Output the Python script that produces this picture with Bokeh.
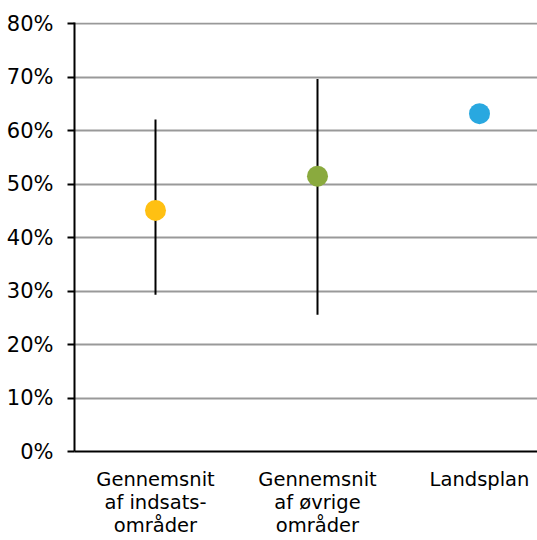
from bokeh.plotting import figure
from bokeh.models import ColumnDataSource, FixedTicker, Range1d
from bokeh.embed import file_html
from bokeh.resources import INLINE

categories = ["Gennemsnit\naf indsats-\nområder", "Gennemsnit\naf øvrige\nområder", "Landsplan"]
values = [45.1, 51.5, 63.2]
lower = [29.3, 25.6, None]
upper = [62.1, 69.7, None]
colors = ["#FFC012", "#8AAA3E", "#29A8E0"]
y_ticks = [0, 10, 20, 30, 40, 50, 60, 70, 80]

xs = [1, 2, 3]

p = figure(width=537, height=540, output_backend="svg", toolbar_location=None,
           x_range=Range1d(0.5, 0.5 + 463 / 162), y_range=Range1d(0, 80.25),
           min_border_left=74, min_border_right=0, min_border_top=22, min_border_bottom=88)
p.outline_line_color = None

# error bars
ex = [x for x, lo in zip(xs, lower) if lo is not None]
elo = [lo for lo in lower if lo is not None]
ehi = [hi for hi in upper if hi is not None]
p.segment(x0=ex, y0=elo, x1=ex, y1=ehi, line_color="black", line_width=2)

src = ColumnDataSource(dict(x=xs, y=values, c=colors))
p.scatter("x", "y", source=src, size=21, fill_color="c", line_color=None)

# axes
p.xaxis.ticker = FixedTicker(ticks=xs)
p.xaxis.major_label_overrides = {x: c for x, c in zip(xs, categories)}
p.xaxis.major_tick_line_color = None
p.xaxis.minor_tick_line_color = None
p.xaxis.axis_line_color = "black"
p.xaxis.axis_line_width = 2
p.xaxis.major_label_text_font = "DejaVu Sans"
p.xaxis.major_label_text_font_size = "19.5px"
p.xaxis.major_label_text_color = "black"
p.xaxis.major_label_text_line_height = 1.02
p.xaxis.major_label_standoff = 10

p.yaxis.ticker = FixedTicker(ticks=y_ticks)
p.yaxis.major_label_overrides = {t: f"{t}%" for t in y_ticks}
p.yaxis.minor_tick_line_color = None
p.yaxis.major_tick_line_color = "black"
p.yaxis.major_tick_line_width = 2
p.yaxis.major_tick_out = 7
p.yaxis.major_tick_in = 0
p.yaxis.axis_line_color = "black"
p.yaxis.axis_line_width = 2
p.yaxis.major_label_text_font = "DejaVu Sans"
p.yaxis.major_label_text_font_size = "21px"
p.yaxis.major_label_text_color = "black"
p.yaxis.major_label_standoff = 14

p.xgrid.grid_line_color = None
p.ygrid.grid_line_color = "#999999"
p.ygrid.grid_line_width = 2

open("out.html", "w").write(file_html(p, INLINE))
